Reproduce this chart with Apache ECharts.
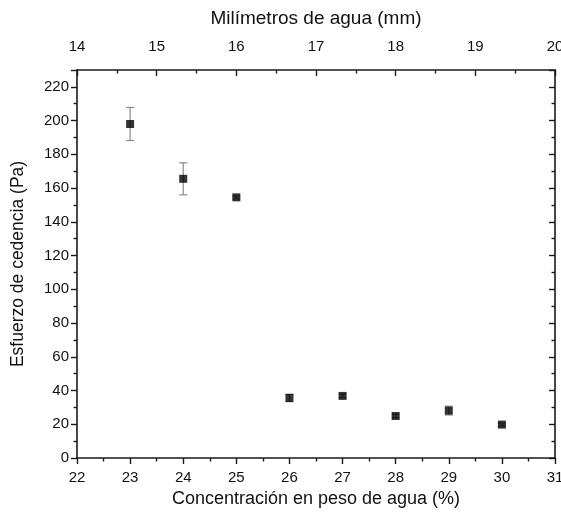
<!DOCTYPE html>
<html>
<head>
<meta charset="utf-8">
<script src="https://cdn.jsdelivr.net/npm/echarts@6/dist/echarts.min.js"></script>
<style>
  html, body { margin: 0; padding: 0; background: #fff; }
  #container { width: 561px; height: 516px; }
</style>
</head>
<body>
<div id="container"></div>
<script>
var concentracion = [23, 24, 25, 26, 27, 28, 29, 30];
var esfuerzo = [198, 165.5, 154.5, 35.6, 36.8, 24.9, 28.1, 19.8];
var errorEsfuerzo = [9.8, 9.5, 0.8, 2.2, 1.0, 1.0, 2.6, 0.8];

var dom = document.getElementById('container');
var myChart = echarts.init(dom, null, { renderer: 'canvas' });

var fuente = 'Liberation Sans, Arial, sans-serif';
var ejeColor = '#1a1a1a';

var puntos = concentracion.map(function (c, i) { return [c, esfuerzo[i]]; });
var barras = concentracion.map(function (c, i) {
  return [c, esfuerzo[i] - errorEsfuerzo[i], esfuerzo[i] + errorEsfuerzo[i]];
});

var ejeBase = {
  axisLine: { show: true, onZero: false, lineStyle: { color: ejeColor, width: 1.6 } },
  axisTick: { show: true, length: 6, lineStyle: { color: ejeColor, width: 1.4 } },
  minorTick: { show: true, splitNumber: 2, length: 3.5, lineStyle: { color: ejeColor, width: 1.4 } },
  splitLine: { show: false },
  axisLabel: { color: '#111', fontSize: 15, fontFamily: fuente }
};

var option = {
  animation: false,
  grid: { left: 77, right: 6, top: 70, bottom: 58, outerBoundsMode: 'none', containLabel: false },
  xAxis: [
    Object.assign({}, ejeBase, {
      type: 'value', position: 'bottom', min: 22, max: 31, interval: 1,
      axisLabel: Object.assign({}, ejeBase.axisLabel, { margin: 12 }),
      name: 'Concentración en peso de agua (%)', nameLocation: 'middle', nameGap: 32,
      nameTextStyle: { fontSize: 18, color: '#111', fontFamily: fuente }
    }),
    Object.assign({}, ejeBase, {
      type: 'value', position: 'top', min: 14, max: 20, interval: 1,
      axisTick: Object.assign({}, ejeBase.axisTick, { inside: true }),
      minorTick: Object.assign({}, ejeBase.minorTick, { show: true }),
      axisLabel: Object.assign({}, ejeBase.axisLabel, { margin: 16 }),
      name: 'Milímetros de agua (mm)', nameLocation: 'middle', nameGap: 42,
      nameTextStyle: { fontSize: 19, color: '#111', fontFamily: fuente }
    })
  ],
  yAxis: [
    Object.assign({}, ejeBase, {
      type: 'value', position: 'left', min: 0, max: 230, interval: 20,
      axisLabel: Object.assign({}, ejeBase.axisLabel, { showMaxLabel: false, margin: 8 }),
      name: 'Esfuerzo de cedencia (Pa)', nameLocation: 'middle', nameGap: 50,
      nameTextStyle: { fontSize: 17.5, color: '#111', fontFamily: fuente }
    }),
    Object.assign({}, ejeBase, {
      type: 'value', position: 'right', min: 0, max: 230, interval: 20,
      axisTick: Object.assign({}, ejeBase.axisTick, { inside: true }),
      minorTick: Object.assign({}, ejeBase.minorTick),
      axisLabel: { show: false }
    })
  ],
  series: [
    {
      type: 'custom',
      xAxisIndex: 0,
      yAxisIndex: 0,
      data: barras,
      z: 1,
      renderItem: function (params, api) {
        var x = api.value(0);
        var abajo = api.coord([x, api.value(1)]);
        var arriba = api.coord([x, api.value(2)]);
        var w = 4;
        var estilo = { stroke: '#8a8a8a', lineWidth: 1.2 };
        return {
          type: 'group',
          children: [
            { type: 'line', shape: { x1: abajo[0], y1: abajo[1], x2: arriba[0], y2: arriba[1] }, style: estilo },
            { type: 'line', shape: { x1: abajo[0] - w, y1: abajo[1], x2: abajo[0] + w, y2: abajo[1] }, style: estilo },
            { type: 'line', shape: { x1: arriba[0] - w, y1: arriba[1], x2: arriba[0] + w, y2: arriba[1] }, style: estilo }
          ]
        };
      }
    },
    {
      type: 'scatter',
      xAxisIndex: 0,
      yAxisIndex: 0,
      data: puntos,
      symbol: 'rect',
      symbolSize: 8,
      z: 3,
      itemStyle: { color: '#000' }
    }
  ]
};

myChart.setOption(option);
window.addEventListener('resize', myChart.resize);
</script>
</body>
</html>
